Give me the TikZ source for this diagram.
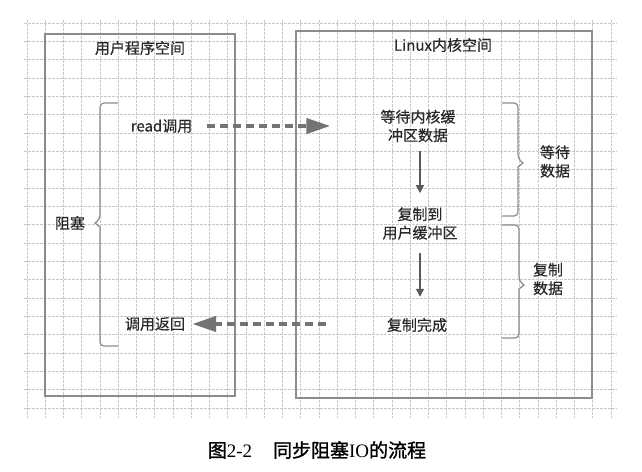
\documentclass[tikz,border=0pt]{standalone}
\usepackage{fontspec}
\setmainfont{Noto Sans CJK SC}
\newfontfamily\serifl{Liberation Serif}
\newfontfamily\capfont[FakeBold=1.2]{Noto Sans CJK SC}
\newfontfamily\labfont[FakeBold=0.4]{Noto Sans CJK SC}
\usetikzlibrary{arrows.meta}
\definecolor{gridc}{RGB}{200,200,200}
\definecolor{boxc}{RGB}{140,140,140}
\definecolor{arrc}{RGB}{115,115,115}
\definecolor{txtc}{RGB}{40,40,40}
\begin{document}
\begin{tikzpicture}[x=1pt,y=-1pt,
  lbl/.style={font=\labfont\fontsize{15}{18.5}\selectfont, text=txtc, inner sep=0pt, align=center},
  panel/.style={draw=boxc, line width=1.4pt, inner sep=0pt},
  gridl/.style={draw=gridc, line width=0.8pt, dash pattern=on 2.5pt off 1.5pt},
  bigarr/.style={draw=arrc, line width=4pt, dash pattern=on 8pt off 5pt, -{Triangle[length=24pt,width=15pt]}},
  smallarr/.style={draw=black!65, line width=1.3pt, -{Triangle[length=8pt,width=8pt]}},
  bracel/.style={draw=boxc, line width=1.2pt, rounded corners=4pt}
]
\useasboundingbox (0,0) rectangle (642,471);
\fill[white] (0,0) rectangle (642,471);
\foreach \i in {0,...,32} \draw[gridl] (27+18.25*\i, 20) -- (27+18.25*\i, 418);
\foreach \j in {0,...,21} \draw[gridl] (24, 23+18.33*\j) -- (617, 23+18.33*\j);

% panels
\node[panel, minimum width=190, minimum height=362] (up) at (140,215) {};
\node[panel, minimum width=296, minimum height=367] (kp) at (444,214.5) {};
\node[lbl] (upt) at (140,48) {用户程序空间};
\node[lbl] (kt) at (443,45) {Linux内核空间};

% labels
\node[lbl] (read) at (161.5,126) {read调用};
\node[lbl] (wait) at (418,126) {等待内核缓\\冲区数据};
\node[lbl] (copy) at (420,223.5) {复制到\\用户缓冲区};
\node[lbl] (done) at (417,325) {复制完成};
\node[lbl] (ret) at (155,324) {调用返回};
\node[lbl] (block) at (70,223) {阻塞};
\node[lbl] (waitd) at (555,161.5) {等待\\数据};
\node[lbl] (copyd) at (548,279) {复制\\数据};

% arrows
\draw[bigarr, shorten <=15pt, shorten >=50pt] (read.east) -- (wait.west);
\draw[bigarr, shorten <=61pt, shorten >=7pt] (done.west |- ret.east) -- (ret.east);
\draw[smallarr, shorten <=9pt, shorten >=14pt] (wait.south -| copy.north) -- (copy.north);
\draw[smallarr, shorten <=13pt, shorten >=21pt] (copy.south) -- (done.north -| copy.south);

% braces
\draw[bracel] (118,103) -- (100,103) -- (100,219) [sharp corners] -- (95,223) -- (100,227) [rounded corners=4pt] -- (100,346) -- (118,346);
\draw[bracel] (502,103) -- (518,103) -- (518,159) [sharp corners] -- (523,163) -- (518,167) [rounded corners=4pt] -- (518,216) -- (502,216);
\draw[bracel] (502,225) -- (519,225) -- (519,281) [sharp corners] -- (524,285) -- (519,289) [rounded corners=4pt] -- (519,338) -- (502,338);

% caption
\node[font=\capfont\fontsize{19}{21}\selectfont, text=black, inner sep=0pt] (cap) at (317,450) {图{\serifl 2-2}\hspace{1.1em}同步阻塞{\serifl IO}的流程};
\end{tikzpicture}
\end{document}
